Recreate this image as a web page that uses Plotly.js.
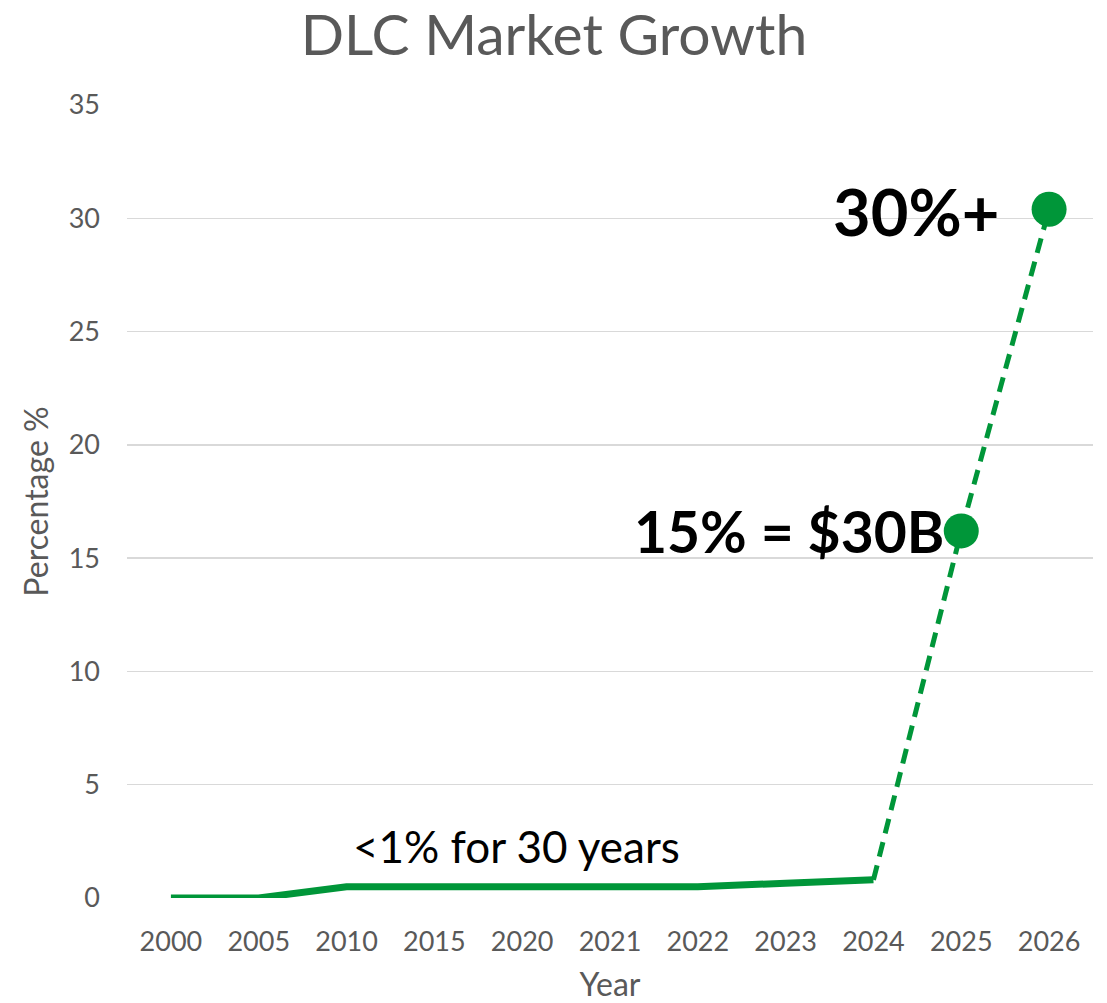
<!DOCTYPE html>
<html>
<head>
<meta charset="utf-8">
<script src="https://cdn.plot.ly/plotly-3.0.1.min.js"></script>
<style>html,body{margin:0;padding:0;background:#fff;}#chart{width:1107px;height:1003px;}</style>
</head>
<body>
<div id="chart"></div>
<script>
const years = ['2000','2005','2010','2015','2020','2021','2022','2023','2024','2025','2026'];
const historicYears = ['2000','2005','2010','2015','2020','2021','2022','2023','2024'];
const historicValues = [0, 0, 0.5, 0.5, 0.5, 0.5, 0.5, 0.65, 0.8];
const forecastYears = ['2024','2025','2026'];
const forecastValues = [0.8, 16.2, 30.4];
const markerYears = ['2025','2026'];
const markerValues = [16.2, 30.4];
const yTicks = [0, 5, 10, 15, 20, 25, 30, 35];
const labelLow = '&lt;1% for 30 years';
const label2025 = '15% = $30B';
const label2026 = '30%+';

const green = 'rgb(0,150,57)';
const font = 'Lato, "Open Sans", sans-serif';
const idx = function(cat){ return years.indexOf(cat); };

const traces = [
  {x: historicYears, y: historicValues, type: 'scatter', mode: 'lines',
   line: {color: green, width: 7}, hoverinfo: 'skip'},
  {x: forecastYears, y: forecastValues, type: 'scatter', mode: 'lines',
   line: {color: green, width: 5, dash: '15px,9px'}, hoverinfo: 'skip'},
  {x: markerYears, y: markerValues, type: 'scatter', mode: 'markers',
   marker: {color: green, size: 35}, hoverinfo: 'skip'}
];

const layout = {
  width: 1107, height: 1003,
  margin: {l: 127, r: 14, t: 105, b: 105},
  paper_bgcolor: '#fff', plot_bgcolor: '#fff',
  showlegend: false,
  font: {family: font, color: '#595959'},
  title: {text: 'DLC Market Growth', font: {family: font, size: 57, color: '#595959'},
          x: 554/1107, xref: 'container', xanchor: 'center',
          y: 1 - 35/1003, yref: 'container', yanchor: 'middle'},
  xaxis: {type: 'category', categoryorder: 'array', categoryarray: years,
          range: [-0.5, 10.5], showgrid: false, zeroline: false, showline: false,
          ticks: '', tickfont: {family: font, size: 27, color: '#595959'},
          ticklabelstandoff: 25,
          title: {text: 'Year', font: {family: font, size: 32, color: '#595959'}, standoff: 28}},
  yaxis: {range: [0, 35], tickvals: yTicks, ticktext: yTicks.map(String),
          showgrid: true, gridcolor: '#d9d9d9', gridwidth: 1.5,
          zeroline: false, showline: false, ticks: '',
          tickfont: {family: font, size: 27, color: '#595959'},
          ticklabelstandoff: 26,
          title: {text: 'Percentage %', font: {family: font, size: 32, color: '#595959'}, standoff: 10}},
  annotations: [
    {x: idx('2015'), y: historicValues[3], xref: 'x', yref: 'y', text: labelLow, showarrow: false,
     xanchor: 'center', yanchor: 'middle', xshift: 82, yshift: 41,
     font: {family: font, size: 44, color: '#000000'}},
    {x: idx('2026'), y: markerValues[1], xref: 'x', yref: 'y', text: '<b>' + label2026 + '</b>', showarrow: false,
     xanchor: 'right', yanchor: 'middle', xshift: -48, yshift: -2,
     font: {family: font, size: 65, color: '#000000'}},
    {x: idx('2025'), y: markerValues[0], xref: 'x', yref: 'y', text: '<b>' + label2025 + '</b>', showarrow: false,
     xanchor: 'right', yanchor: 'middle', xshift: -15, yshift: 0,
     font: {family: font, size: 57, color: '#000000'}}
  ]
};

Plotly.newPlot('chart', traces, layout, {staticPlot: true, displayModeBar: false});
</script>
</body>
</html>
